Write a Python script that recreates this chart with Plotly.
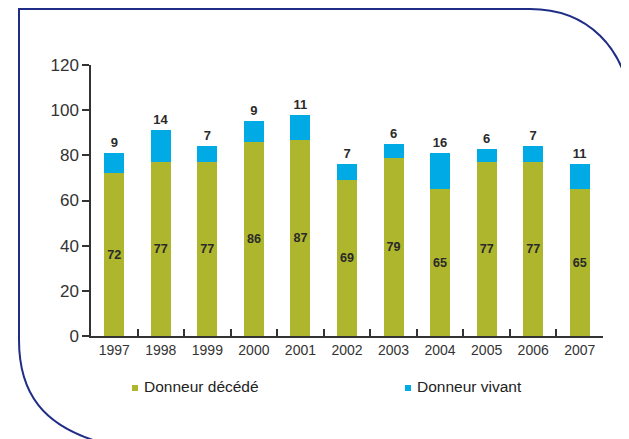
import plotly.graph_objects as go

years = ["1997", "1998", "1999", "2000", "2001", "2002", "2003", "2004", "2005", "2006", "2007"]
deceased = [72, 77, 77, 86, 87, 69, 79, 65, 77, 77, 65]
living = [9, 14, 7, 9, 11, 7, 6, 16, 6, 7, 11]
series_names = ["Donneur décédé", "Donneur vivant"]
y_ticks = [0, 20, 40, 60, 80, 100, 120]

GREEN = "#aeb62e"
BLUE = "#00aae4"
NAVY = "#1f2d86"
AXIS = "#333333"

OFF = 8  # page body margin compensation
W, H = 629 - OFF, 439 - OFF
ML, MT = 91 - OFF, 65 - OFF
MR = W - (603 - OFF)
MB = H - (336 - OFF)
PW, PH = W - ML - MR, H - MT - MB


def px(x):
    return (x - OFF - ML) / PW


def py(y):
    return (H - MB - (y - OFF)) / PH


fig = go.Figure()
fig.add_trace(go.Bar(
    x=years, y=deceased, name=series_names[0], marker=dict(color=GREEN, line=dict(width=0)),
    text=deceased, textposition="inside", insidetextanchor="middle",
    textfont=dict(family="Liberation Sans", size=13, color="#2a2a2a", weight="bold"),
    showlegend=False, width=0.43,
))
fig.add_trace(go.Bar(
    x=years, y=living, name=series_names[1], marker=dict(color=BLUE, line=dict(width=0)),
    text=living, textposition="outside",
    textfont=dict(family="Liberation Sans", size=13, color="#2a2a2a", weight="bold"),
    showlegend=False, width=0.43, cliponaxis=False,
))

# manual legend (small squares + labels)
legend_x = [132, 405]
for nm, col, lx in zip(series_names, [GREEN, BLUE], legend_x):
    fig.add_shape(type="rect", xref="paper", yref="paper",
                  x0=px(lx), x1=px(lx + 6), y0=py(391), y1=py(385),
                  fillcolor=col, line=dict(width=0))
    fig.add_annotation(text=nm, xref="paper", yref="paper", x=px(lx + 10), y=py(387),
                       xanchor="left", yanchor="middle", showarrow=False,
                       font=dict(size=15.5, color="#222222"))

# frame
frame = (
    f"M {px(96)},{py(441)} "
    f"C {px(45)},{py(425)} {px(19)},{py(395)} {px(19)},{py(340)} "
    f"L {px(19)},{py(9)} L {px(530)},{py(9)} "
    f"C {px(585)},{py(9)} {px(628)},{py(45)} {px(632)},{py(115)}"
)
fig.add_shape(type="path", path=frame, xref="paper", yref="paper",
              line=dict(color=NAVY, width=2))

fig.update_layout(
    width=W, height=H,
    margin=dict(l=ML, r=MR, t=MT, b=MB, pad=0, autoexpand=False),
    barmode="stack",
    showlegend=False,
    plot_bgcolor="white", paper_bgcolor="white",
    font=dict(family="Liberation Sans", color="#333333"),
    xaxis=dict(
        type="category", range=[-0.5, 10.5], showline=True, linecolor=AXIS, linewidth=1.5,
        ticks="inside", tickson="boundaries", ticklen=7, tickcolor=AXIS, tickwidth=1.5,
        tickfont=dict(size=14, color="#333333"), showgrid=False, zeroline=False,
    ),
    yaxis=dict(
        range=[0, 120], tickvals=y_ticks, showline=True, linecolor=AXIS, linewidth=1.5,
        ticks="outside", ticklen=7, tickcolor=AXIS, tickwidth=1.5,
        tickfont=dict(size=17, color="#333333"), showgrid=False, zeroline=False,
    ),
)

fig.write_html("out.html")
